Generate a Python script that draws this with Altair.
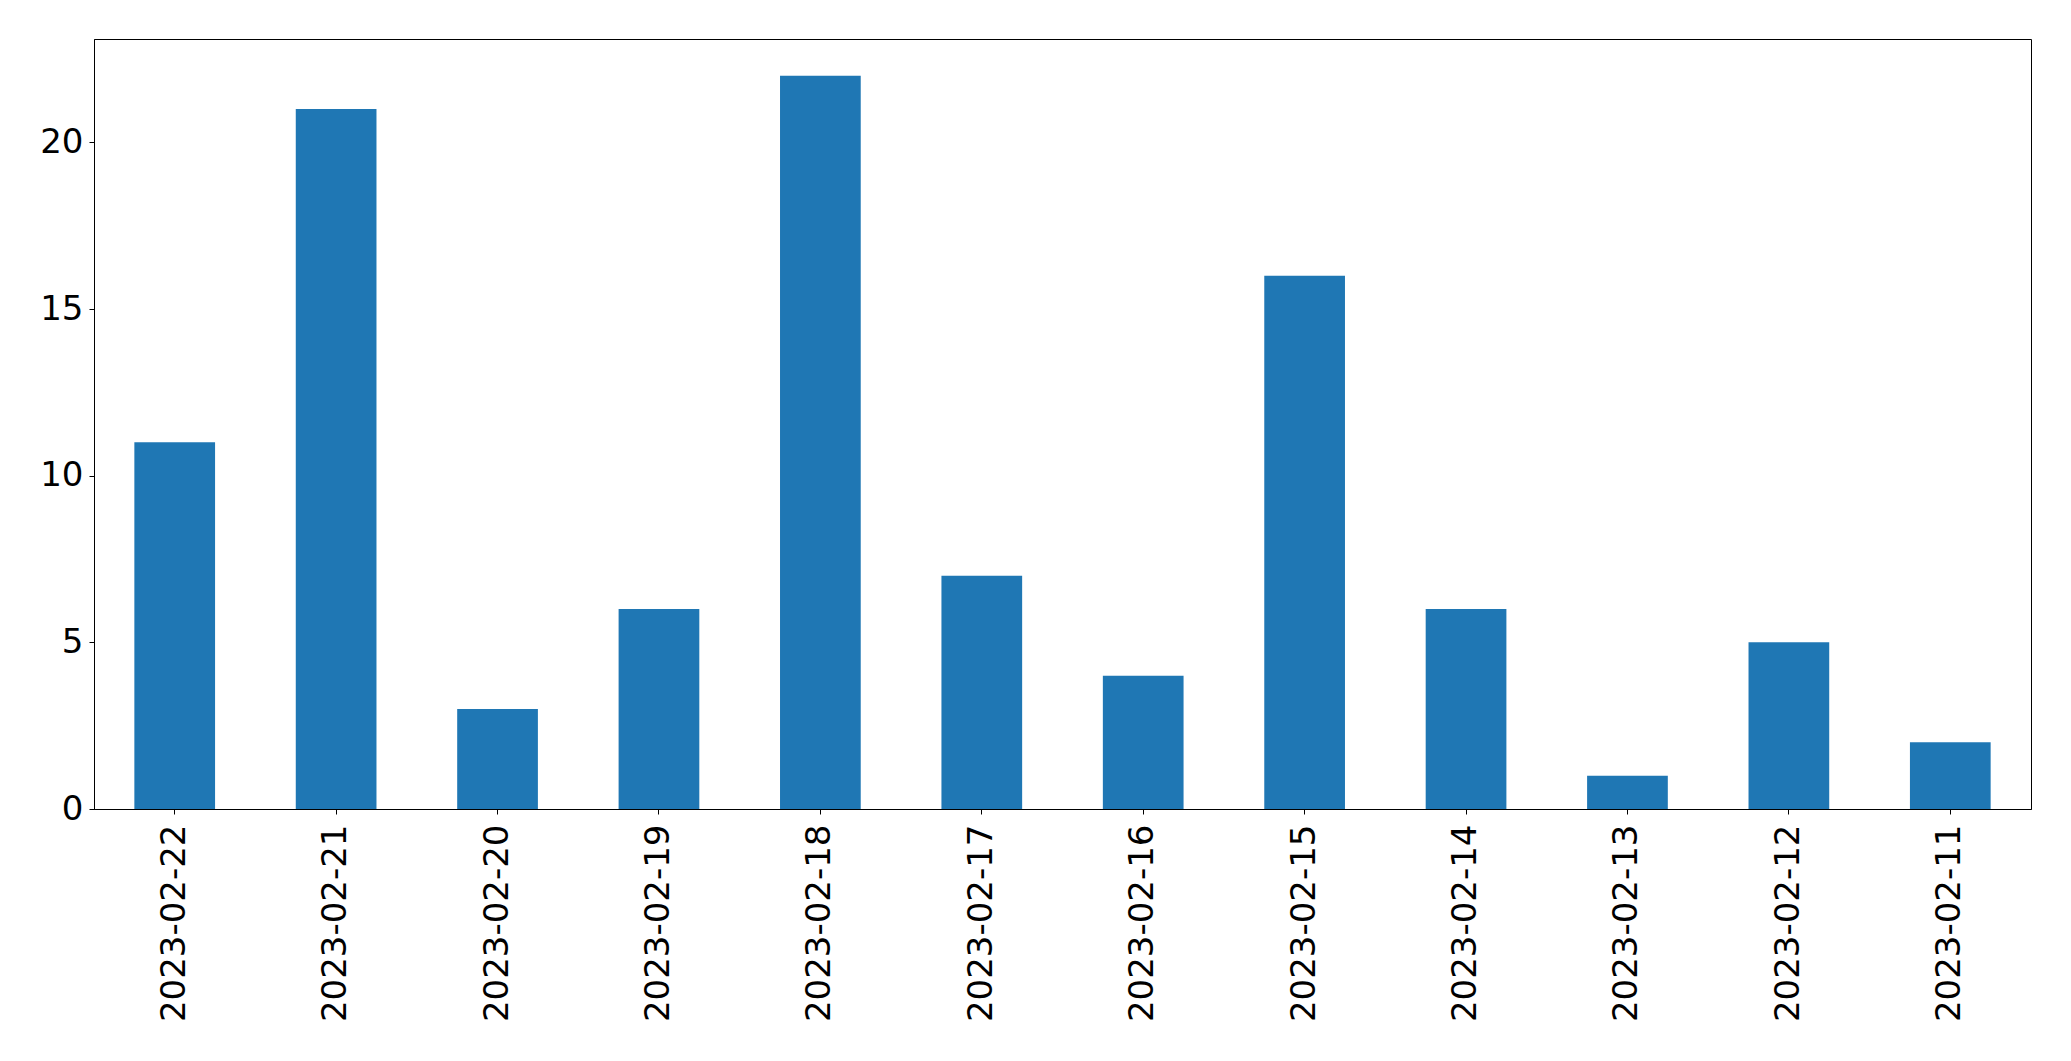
import altair as alt
import pandas as pd

dates = ["2023-02-22", "2023-02-21", "2023-02-20", "2023-02-19", "2023-02-18", "2023-02-17",
         "2023-02-16", "2023-02-15", "2023-02-14", "2023-02-13", "2023-02-12", "2023-02-11"]
counts = [11, 21, 3, 6, 22, 7, 4, 16, 6, 1, 5, 2]
y_ticks = [0, 5, 10, 15, 20]

df = pd.DataFrame({"date": dates, "count": counts})

chart = alt.Chart(df).mark_bar(color="#1f77b4").encode(
    x=alt.X("date:N", sort=None, title=None,
            scale=alt.Scale(paddingInner=0.5, paddingOuter=0.25),
            axis=alt.Axis(labelAngle=270, labelAlign="right", labelBaseline="middle",
                          labelFontSize=34, labelPadding=10, tickSize=5, labelLimit=500,
                          labelFont="DejaVu Sans", labelColor="black",
                          domainColor="black", tickColor="black")),
    y=alt.Y("count:Q", title=None,
            scale=alt.Scale(domain=[0, 23.1], nice=False, zero=True),
            axis=alt.Axis(values=y_ticks, grid=False, labelFontSize=34, labelPadding=6,
                          tickSize=5, labelFont="DejaVu Sans", labelColor="black",
                          domainColor="black", tickColor="black")),
).properties(
    width=1937, height=770,
    autosize=alt.AutoSizeParams(type="none"),
    padding={"left": 86, "top": 31, "right": 30, "bottom": 240},
).configure_view(stroke="black", strokeWidth=1)

chart.save("out.html", embed_options={"renderer": "svg", "actions": False})
